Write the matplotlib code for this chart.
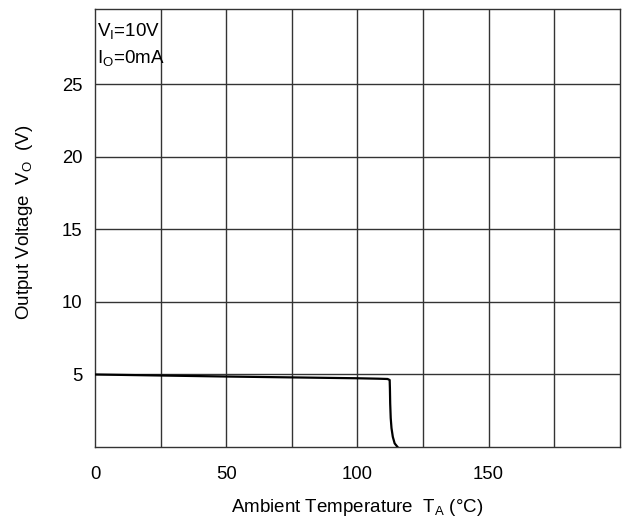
import matplotlib
matplotlib.use('Agg')
import matplotlib.pyplot as plt

plt.rcParams['font.family'] = ['Liberation Sans', 'DejaVu Sans']
plt.rcParams['mathtext.fontset'] = 'custom'
plt.rcParams['mathtext.rm'] = 'Liberation Sans'

# curve
temp = [0, 25, 50, 75, 100, 108, 111.5, 112.3, 112.4, 112.5, 112.7, 113.0, 113.5, 114.2, 115.3]
vout = [5.0, 4.93, 4.86, 4.8, 4.74, 4.71, 4.69, 4.62, 4.0, 3.0, 2.0, 1.3, 0.7, 0.25, 0.0]

xticks = [0, 50, 100, 150]
yticks = [5, 10, 15, 20, 25]

fig = plt.figure(figsize=(6.27, 5.19), dpi=100)
ax = fig.add_axes([0.1515, 0.1387, 0.837, 0.844])

for x in range(25, 200, 25):
    ax.axvline(x, color='#333333', lw=1.0, zorder=1)
for y in range(5, 30, 5):
    ax.axhline(y, color='#333333', lw=1.0, zorder=1)

ax.plot(temp, vout, color='black', lw=1.6, zorder=3)

ax.set_xlim(0, 200)
ax.set_ylim(0, 30.2)
ax.set_xticks(xticks)
ax.set_yticks(yticks)
ax.tick_params(length=0, labelsize=13.3, colors='black')
ax.tick_params(axis='x', pad=14)
ax.tick_params(axis='y', pad=9)
for s in ax.spines.values():
    s.set_color('#333333')
    s.set_linewidth(1.0)

# axis titles placed by hand
fig.text(357.5 / 627, 1 - 507 / 519, r'Ambient Temperature  T$_\mathrm{A}$ (°C)',
         fontsize=13.5, ha='center', va='center')
fig.text(25 / 627, 1 - 222 / 519, r'Output Voltage  V$_\mathrm{O}$  (V)',
         fontsize=13.5, ha='center', va='center', rotation=90)

ax.text(0.8, 28.65, r'V$_\mathrm{I}$=10V', fontsize=13.5, va='center', ha='left')
ax.text(0.8, 26.75, r'I$_\mathrm{O}$=0mA', fontsize=13.5, va='center', ha='left')

fig.savefig('out.png', dpi=100)
